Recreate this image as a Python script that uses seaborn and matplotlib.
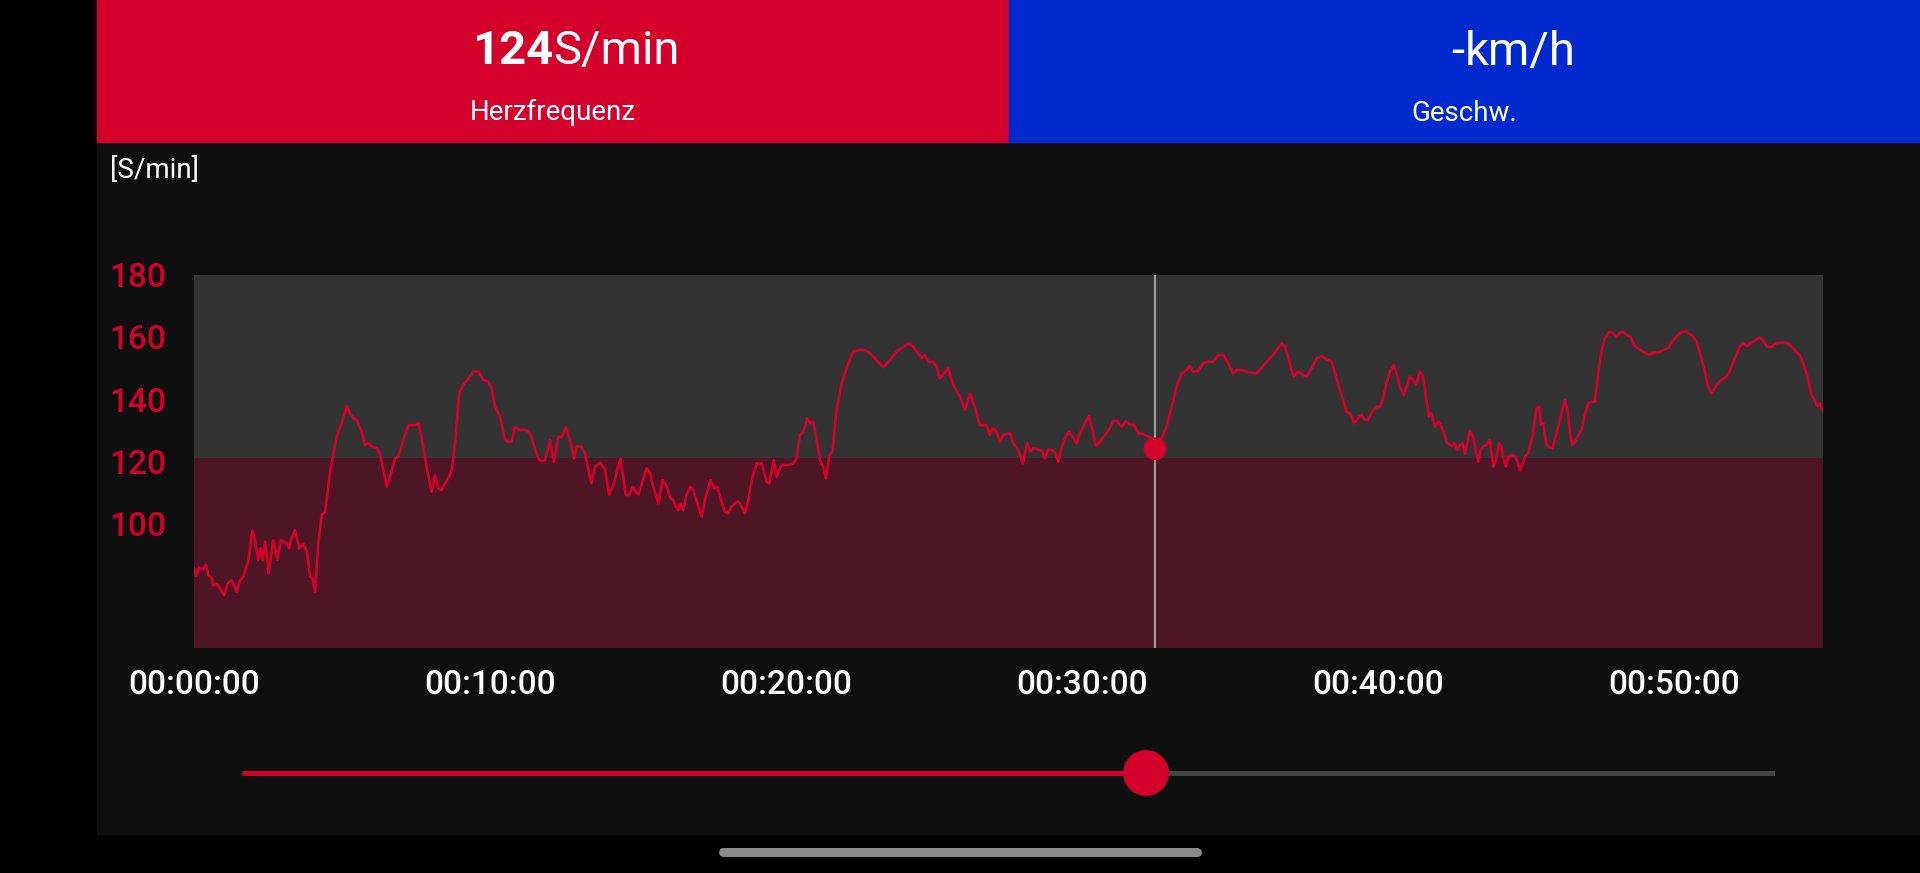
import numpy as np
import pandas as pd
import matplotlib
matplotlib.use('Agg')
import matplotlib.pyplot as plt
from matplotlib.patches import Rectangle
from matplotlib.lines import Line2D
import seaborn as sns

# ===== Daten =====
zeit_min = [
    0.00, 0.07, 0.18, 0.29, 0.41, 0.48, 0.60, 0.65, 0.77, 0.88, 1.02, 1.13, 1.27, 1.44, 1.55, 1.67,
    1.84, 1.97, 2.06, 2.17, 2.25, 2.32, 2.40, 2.52, 2.68, 2.82, 2.93, 3.02, 3.15, 3.21, 3.28, 3.41,
    3.56, 3.69, 3.81, 3.92, 4.01, 4.09, 4.20, 4.31, 4.43, 4.59, 4.71, 4.82, 4.99, 5.16, 5.27, 5.38,
    5.50, 5.66, 5.78, 5.89, 6.00, 6.17, 6.28, 6.40, 6.51, 6.62, 6.79, 6.90, 7.07, 7.24, 7.47, 7.58,
    7.64, 7.75, 7.92, 8.03, 8.14, 8.25, 8.37, 8.48, 8.59, 8.71, 8.82, 8.96, 9.10, 9.27, 9.44, 9.61,
    9.77, 9.94, 10.06, 10.17, 10.34, 10.51, 10.62, 10.73, 10.84, 11.01, 11.24, 11.35, 11.46, 11.63,
    11.75, 11.86, 12.03, 12.16, 12.31, 12.42, 12.56, 12.70, 12.84, 12.93, 13.10, 13.21, 13.32, 13.43,
    13.55, 13.72, 13.89, 14.03,
    14.19, 14.30, 14.41, 14.50, 14.59, 14.71, 14.82, 14.93, 15.01, 15.12, 15.29, 15.41, 15.52, 15.69,
    15.83, 15.97, 16.10, 16.19, 16.28, 16.36, 16.44, 16.53, 16.62, 16.76, 16.87, 17.00, 17.15, 17.26,
    17.45, 17.57, 17.68, 17.79, 17.94, 18.05, 18.16, 18.28, 18.39, 18.50, 18.61, 18.73, 18.87, 19.01,
    19.18, 19.35, 19.44, 19.59, 19.68, 19.85, 20.08, 20.25, 20.36, 20.47, 20.59, 20.72, 20.83, 20.92,
    21.01, 21.15, 21.26, 21.35, 21.46, 21.58, 21.71, 21.88, 22.11, 22.27, 22.44, 22.67, 22.84, 23.06,
    23.29, 23.51, 23.74, 23.91, 24.13, 24.30, 24.47, 24.58, 24.69, 24.81, 24.98, 25.09, 25.20, 25.31,
    25.48, 25.65, 25.88, 26.05, 26.22, 26.38, 26.55, 26.78, 26.89, 26.98, 27.12, 27.23, 27.34, 27.57,
    27.68, 27.85, 28.00, 28.15, 28.27, 28.36, 28.53, 28.67, 28.75, 28.86, 28.98, 29.09, 29.20, 29.31,
    29.43, 29.57, 29.71, 29.82, 29.93, 30.07, 30.24, 30.36, 30.47, 30.61, 30.78, 30.92, 31.06, 31.19,
    31.34, 31.49, 31.64, 31.76, 31.90, 32.05, 32.21, 32.35, 32.47, 32.69, 32.86, 33.03, 33.20, 33.37,
    33.54, 33.65, 33.76, 33.93, 34.10, 34.27, 34.44, 34.61, 34.78, 34.94, 35.11, 35.23, 35.39, 35.56,
    35.73, 35.90, 36.07, 36.24, 36.41, 36.58, 36.75, 36.86, 36.97, 37.08, 37.16, 37.31, 37.48, 37.59,
    37.76, 37.93, 38.10, 38.27, 38.44, 38.58, 38.72, 38.83, 38.94, 39.05, 39.20, 39.37, 39.45, 39.56,
    39.67, 39.84, 39.96, 40.07, 40.18, 40.29, 40.41, 40.54, 40.63, 40.74, 40.88, 41.03, 41.08, 41.19,
    41.28, 41.42, 41.53, 41.64, 41.73,
    41.81, 41.93, 42.04, 42.15, 42.23, 42.34, 42.49, 42.58, 42.68, 42.77, 42.86, 42.94, 43.02, 43.11,
    43.22, 43.30, 43.39, 43.47, 43.56, 43.67, 43.78, 43.90, 43.99, 44.10, 44.18, 44.23, 44.32, 44.40,
    44.52, 44.63, 44.71, 44.80, 44.88, 44.97, 45.08, 45.22, 45.27, 45.36, 45.45, 45.51, 45.59, 45.68,
    45.79, 45.90, 46.01, 46.15, 46.32, 46.41, 46.49, 46.57, 46.65, 46.77, 46.88, 46.99, 47.11, 47.22,
    47.33, 47.44, 47.56, 47.67, 47.82, 47.95, 48.06, 48.18, 48.29, 48.40, 48.54, 48.65, 48.79, 48.96,
    49.17, 49.30, 49.47, 49.64, 49.81, 49.98, 50.15, 50.26, 50.43, 50.60, 50.77, 50.93, 51.02, 51.14,
    51.27, 51.44, 51.61, 51.78, 51.91, 52.06, 52.23, 52.34, 52.48, 52.62, 52.77, 52.90, 53.02, 53.15,
    53.30, 53.45, 53.60, 53.78, 53.92, 54.03, 54.14, 54.26, 54.37, 54.50, 54.65, 54.76, 54.84, 54.93,
    55.04,
]
puls = [
    85.9, 83.1, 85.9, 85.3, 86.7, 83.4, 82.4, 80.2, 80.6, 79.2, 77.0, 80.6, 81.8, 78.1, 81.6, 82.9,
    88.3, 97.7, 94.7, 88.3, 92.0, 88.3, 94.2, 84.0, 94.7, 88.3, 94.7, 94.2, 93.6, 92.0, 94.7, 97.9,
    92.0, 93.6, 91.0, 82.9, 82.4, 78.1, 93.6, 102.7, 103.8, 116.1, 122.5, 127.9, 132.2, 137.8, 135.4, 133.8,
    133.3, 129.5, 125.2, 125.8, 124.7, 124.2, 122.5, 117.2, 111.8, 115.0, 120.9, 121.5, 126.8, 131.6, 131.6, 132.2,
    130.0, 124.2, 115.0, 110.2, 115.6, 111.3, 110.8, 112.9, 114.5, 117.2, 125.8, 141.8, 144.5, 146.6, 148.8, 148.8,
    146.1, 145.6, 143.4, 137.5, 134.3, 126.8, 126.3, 126.3, 131.1, 130.0, 130.0, 129.0, 125.8, 120.9,
    119.9, 120.4, 126.8, 119.9, 127.9, 127.9, 130.9, 126.8, 120.9, 124.7, 124.7, 122.5, 117.2, 112.9,
    118.3, 119.6, 117.2, 109.2,
    112.9, 117.2, 120.9, 115.0, 109.2, 109.2, 111.8, 110.2, 109.2, 112.4, 117.7, 116.1, 111.8, 106.5,
    114.0, 111.8, 108.1, 107.6, 105.4, 104.3, 106.5, 104.3, 108.6, 111.8, 110.8, 106.5, 102.2, 107.6,
    114.0, 111.3, 111.8, 108.1, 103.8, 103.3, 105.4, 106.5, 107.0, 105.4, 103.3, 107.6, 115.0, 119.3,
    119.3, 113.4, 112.9, 120.4, 115.0, 118.8, 118.8, 119.3, 120.9, 128.4, 129.5, 133.8, 132.2, 132.7,
    128.4, 120.4, 118.3, 114.5, 121.5, 123.6, 136.5, 145.0, 151.5, 155.2, 155.7, 155.7, 154.7, 152.5,
    150.2, 152.5, 155.2, 156.3, 157.9, 156.8, 154.7, 153.1, 154.1, 152.0, 152.0, 150.4, 146.6, 147.7,
    149.9, 144.5, 140.7, 136.5, 141.8, 137.5, 131.6, 131.6, 128.4, 130.6, 129.5, 126.3, 128.4, 129.0,
    125.8, 123.6, 119.3, 125.8, 123.1, 124.2, 123.8, 123.1, 120.9, 123.8, 123.6, 122.8, 119.9, 124.2,
    127.4, 129.5, 127.4, 125.8, 128.8, 131.7, 134.5, 130.0, 124.9, 126.3, 128.4, 130.3, 133.0, 133.0,
    131.1, 132.9, 131.7, 131.7, 129.0, 128.8, 128.1, 127.4, 124.0, 127.4, 131.1, 137.5, 144.0, 148.2,
    149.3, 150.6, 148.8, 149.0, 151.5, 152.0, 152.0, 154.1, 154.1, 151.5, 148.2, 149.3, 149.3, 148.8,
    148.5, 148.2, 149.9, 152.0, 153.6, 155.7, 157.9, 156.8, 153.6, 149.3, 147.2, 148.8, 147.7, 147.2,
    149.9, 153.1, 153.8, 152.7, 152.0, 147.2, 142.9, 139.7, 135.9, 135.4, 132.2, 134.3, 134.9, 133.3,
    133.3, 136.5, 137.5, 137.5, 140.2, 145.0, 148.8, 150.9, 148.2, 144.0, 141.3, 145.6, 147.2, 146.1,
    144.5, 148.8, 147.2, 139.7, 134.3,
    135.4, 131.1, 132.7, 131.1, 129.0, 125.8, 124.9, 125.8, 123.6, 125.2, 125.8, 122.3, 125.8, 129.8,
    127.9, 123.6, 119.9, 123.6, 124.7, 125.2, 126.8, 118.3, 120.4, 125.8, 124.7, 121.5, 118.3, 121.5,
    122.0, 121.7, 119.9, 117.0, 118.8, 121.5, 122.6, 127.9, 131.1, 137.0, 137.5, 131.7, 132.2, 125.8,
    124.5, 124.2, 127.9, 133.3, 139.7, 136.5, 129.0, 125.2, 126.3, 128.4, 130.0, 134.9, 138.6, 139.1,
    139.1, 148.2, 155.7, 159.5, 161.6, 161.1, 160.0, 161.3, 161.6, 160.6, 160.0, 157.4, 156.3, 155.2,
    154.1, 154.9, 154.9, 155.7, 156.3, 159.0, 160.6, 161.6, 161.6, 160.6, 158.4, 153.1, 149.9, 144.5,
    141.8, 144.5, 146.1, 147.2, 149.3, 153.1, 156.8, 158.1, 157.0, 158.1, 159.0, 159.8, 158.7, 156.8,
    156.8, 157.9, 158.1, 158.1, 157.4, 156.3, 155.2, 154.1, 151.5, 147.7, 141.3, 139.7, 137.7, 138.6,
    135.9,
]

cursor_zeit = 32.47      # Minuten
cursor_puls = 124
zone_grenze = 121        # Grenze rote Zone
y_bereich = (60, 180)
dauer = 55.04
y_ticks = [100, 120, 140, 160, 180]
x_ticks = [0, 10, 20, 30, 40, 50]
x_labels = ['00:00:00', '00:10:00', '00:20:00', '00:30:00', '00:40:00', '00:50:00']

wert_hf, einheit_hf, titel_hf = '124', 'S/min', 'Herzfrequenz'
wert_v, einheit_v, titel_v = '-', 'km/h', 'Geschw.'
y_einheit = '[S/min]'

# ===== Farben =====
ROT = '#d2002b'
BLAU = '#002acd'
PANEL = '#0f0f0f'
GRAU_ZONE = '#333333'
ROT_ZONE = '#4e1524'

sns.set_theme(style='dark')
plt.rcParams['font.family'] = ['Roboto', 'DejaVu Sans']

W, H = 1920, 873
fig = plt.figure(figsize=(W / 100, H / 100), dpi=100, facecolor='black')

def fx(x):
    return x / W

def fy(y):
    return 1 - y / H

# Hintergrundflächen
fig.add_artist(Rectangle((fx(97), fy(834)), fx(1920 - 97), (834 - 142) / H,
                         transform=fig.transFigure, color=PANEL, zorder=0))
fig.add_artist(Rectangle((fx(97), fy(142)), fx(1009 - 97), 142 / H,
                         transform=fig.transFigure, color=ROT, zorder=0))
fig.add_artist(Rectangle((fx(1009), fy(142)), fx(1920 - 1009), 142 / H,
                         transform=fig.transFigure, color=BLAU, zorder=0))
fig.add_artist(Line2D([fx(723), fx(1197)], [fy(851.5), fy(851.5)], transform=fig.transFigure,
                      color='#8a8a8a', lw=6.5, solid_capstyle='round'))

# Kopfzeile
mitte_hf = fx(553)
mitte_v = fx(1464.5)
fig.text(mitte_hf, fy(64), wert_hf, ha='right', va='baseline', fontsize=34, fontweight='bold', color='white')
fig.text(mitte_hf, fy(64), einheit_hf, ha='left', va='baseline', fontsize=34, color='white')
fig.text(mitte_hf, fy(120), titel_hf, ha='center', va='baseline', fontsize=20, color='white')
fig.text(mitte_v, fy(65), wert_v, ha='right', va='baseline', fontsize=34, color='white')
fig.text(mitte_v, fy(65), einheit_v, ha='left', va='baseline', fontsize=34, color='white')
fig.text(mitte_v, fy(121), titel_v, ha='center', va='baseline', fontsize=20, color='white')
fig.text(fx(110), fy(178), y_einheit, ha='left', va='baseline', fontsize=20, color='white')

# ===== Hauptdiagramm =====
ax = fig.add_axes([fx(194), fy(648), fx(1823 - 194), (648 - 274.5) / H])
ax.set_facecolor(GRAU_ZONE)
ax.axhspan(y_bereich[0], zone_grenze, color=ROT_ZONE, lw=0, zorder=0)

df = pd.DataFrame({'zeit': zeit_min, 'puls': puls})
sns.lineplot(data=df, x='zeit', y='puls', color=ROT, linewidth=1.9, ax=ax, zorder=3)
ax.axvline(cursor_zeit, color='#9c9c9c', lw=1.6, zorder=4)
sns.scatterplot(x=[cursor_zeit], y=[cursor_puls], s=270, color=ROT, edgecolor='none', ax=ax, zorder=5)

ax.set_xlim(0, dauer)
ax.set_ylim(*y_bereich)
ax.set_xticks(x_ticks)
ax.set_xticklabels(x_labels)
ax.set_yticks(y_ticks)
ax.set_yticklabels([str(v) for v in y_ticks])
ax.tick_params(axis='x', length=0, pad=15, labelsize=24, labelcolor='white')
ax.tick_params(axis='y', length=0, pad=20, labelsize=24, labelcolor=ROT)
for lbl in ax.get_xticklabels() + ax.get_yticklabels():
    lbl.set_fontweight('medium')
ax.set_xlabel('')
ax.set_ylabel('')
ax.grid(False)
for s in ax.spines.values():
    s.set_visible(False)

# ===== Schieberegler =====
sl = fig.add_axes([fx(242), fy(803), fx(1774.5 - 242), 60 / H])
sl.set_xlim(0, dauer)
sl.set_ylim(-1, 1)
sl.plot([0, cursor_zeit], [0, 0], color=ROT, lw=3.6, solid_capstyle='butt')
sl.plot([cursor_zeit, dauer], [0, 0], color='#444444', lw=3.6, solid_capstyle='butt')
sl.scatter([cursor_zeit], [0], s=1090, color=ROT, edgecolor='none', zorder=3)
sl.axis('off')
sl.patch.set_alpha(0)

fig.savefig('out.png', dpi=100, facecolor=fig.get_facecolor())
